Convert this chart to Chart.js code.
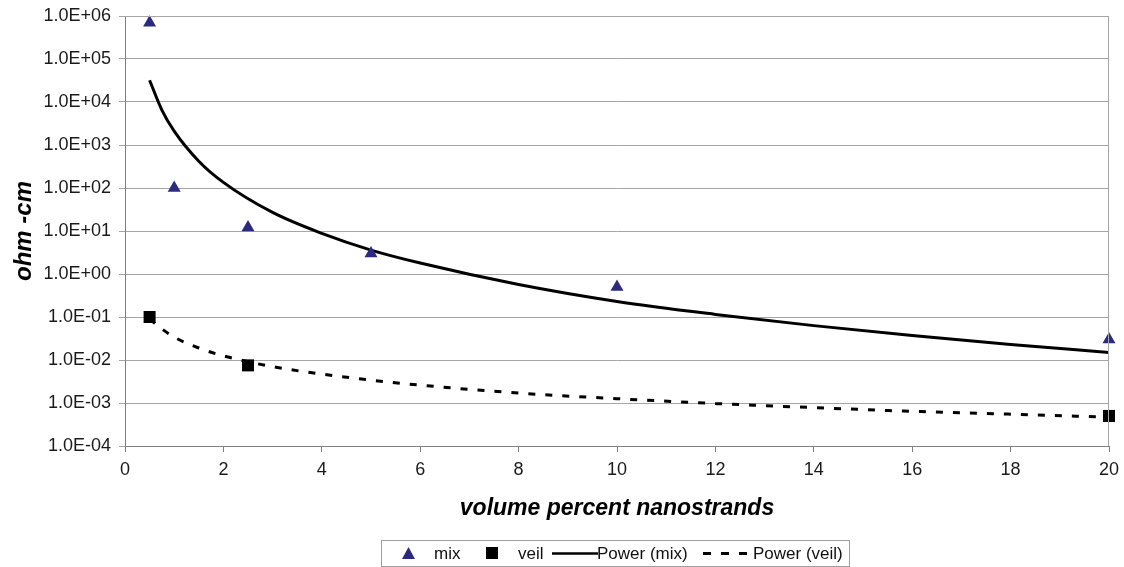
<!DOCTYPE html>
<html>
<head>
<meta charset="utf-8">
<script src="https://cdn.jsdelivr.net/npm/chart.js@4.4.1/dist/chart.umd.min.js"></script>
<style>
  body { margin: 0; background: #fff; font-family: "Liberation Sans", Arial, sans-serif; }
  #wrap { position: relative; width: 1124px; height: 567px; }
  #legend {
    position: absolute; left: 381px; top: 540px; height: 27px; width: 469px;
    border: 1px solid #a0a0a0; box-sizing: border-box;
    font-size: 17px; color: #111; white-space: nowrap;
  }
  #legend span { position: absolute; top: 0; height: 25px; line-height: 25px; }
  #legend svg { position: absolute; }
</style>
</head>
<body>
<div id="wrap">
  <canvas id="c"></canvas>
  <div id="legend">
    <svg style="left:20px;top:6px" width="13" height="12"><polygon points="6.5,0 13,12 0,12" fill="#2b2a80"/></svg>
    <span style="left:52px">mix</span>
    <svg style="left:104px;top:6px" width="12" height="12"><rect width="12" height="12" fill="#000"/></svg>
    <span style="left:136px">veil</span>
    <svg style="left:170px;top:10px" width="46" height="5"><line x1="0" y1="2.5" x2="46" y2="2.5" stroke="#000" stroke-width="2.5"/></svg>
    <span style="left:215px">Power (mix)</span>
    <svg style="left:321px;top:10px" width="47" height="5"><line x1="0" y1="2.5" x2="47" y2="2.5" stroke="#000" stroke-width="3" stroke-dasharray="8,10"/></svg>
    <span style="left:371px">Power (veil)</span>
  </div>
</div>
<script>
    // measured points
    var mixX = [0.5, 1, 2.5, 5, 10, 20];
    var mixY = [7e5, 100, 12, 3, 0.5, 0.03];
    var veilX = [0.5, 2.5, 20];
    var veilY = [0.1, 0.0075, 0.0005];

    // trend lines
    var fitX = [0.5, 0.75, 1, 1.5, 2, 3, 4, 5, 6, 8, 10, 12, 14, 16, 18, 20];
    var fitMixY = [3.2e4, 6.5e3, 2.1e3, 420, 135, 27, 8.8, 3.6, 1.8, 0.57, 0.23, 0.115, 0.063, 0.037, 0.023, 0.015];
    var fitVeilY = [0.09, 0.053, 0.034, 0.019, 0.0125, 0.007, 0.0047, 0.0034, 0.0026, 0.0017, 0.00126, 0.00097, 0.00078, 0.00064, 0.00055, 0.00047];

    var yTicks = [1e-4, 1e-3, 1e-2, 1e-1, 1, 1e1, 1e2, 1e3, 1e4, 1e5, 1e6];

    function pts(xs, ys) {
        return xs.map(function (x, i) { return { x: x, y: ys[i] }; });
    }

    function sciLabel(v) {
        var e = Math.round(Math.log10(v));
        return '1.0E' + (e < 0 ? '-' : '+') + String(Math.abs(e)).padStart(2, '0');
    }

    var frame = {
        id: 'frame',
        afterDatasetsDraw: function (chart) {
            var a = chart.chartArea, ctx = chart.ctx;
            ctx.save();
            ctx.strokeStyle = '#a6a6a6';
            ctx.lineWidth = 1;
            ctx.beginPath();
            ctx.moveTo(a.left, a.top + 0.5);
            ctx.lineTo(a.right - 0.5, a.top + 0.5);
            ctx.lineTo(a.right - 0.5, a.bottom);
            ctx.stroke();
            ctx.restore();
        }
    };

    Chart.defaults.font.family = '"Liberation Sans", Arial, sans-serif';
    Chart.defaults.color = '#1a1a1a';

    new Chart(document.getElementById('c'), {
        type: 'scatter',
        data: {
            datasets: [
                { label: 'mix', data: pts(mixX, mixY), pointStyle: 'triangle', pointRadius: 7.5,
                  backgroundColor: '#2b2a80', borderColor: '#2b2a80', borderWidth: 0, order: 0, clip: false },
                { label: 'veil', data: pts(veilX, veilY), pointStyle: 'rect', pointRadius: 8.5,
                  backgroundColor: '#000', borderColor: '#000', borderWidth: 0, order: 0, clip: false },
                { label: 'Power (mix)', data: pts(fitX, fitMixY), showLine: true, pointRadius: 0,
                  borderColor: '#000', borderWidth: 3, cubicInterpolationMode: 'monotone', order: 1 },
                { label: 'Power (veil)', data: pts(fitX, fitVeilY), showLine: true, pointRadius: 0,
                  borderColor: '#000', borderWidth: 3, borderDash: [7, 10], cubicInterpolationMode: 'monotone', order: 1 }
            ]
        },
        options: {
            responsive: true,
            maintainAspectRatio: false,
            animation: false,
            layout: { padding: { top: 16, right: 15, left: 0, bottom: 45 } },
            plugins: { legend: { display: false }, tooltip: { enabled: false } },
            scales: {
                x: {
                    type: 'linear', min: 0, max: 20,
                    ticks: { stepSize: 2, font: { size: 18 }, padding: 7 },
                    grid: { drawOnChartArea: false, color: '#808080', tickLength: 6 },
                    border: { color: '#808080', width: 1 },
                    title: { display: true, text: 'volume percent nanostrands',
                             font: { size: 23, weight: 'bold', style: 'italic' }, color: '#000',
                             padding: { top: 10, bottom: 0 } },
                    afterFit: function (s) { s.height = 76; s.paddingLeft = 0; s.paddingRight = 0; }
                },
                y: {
                    type: 'logarithmic', min: 1e-4, max: 1e6,
                    afterBuildTicks: function (s) { s.ticks = yTicks.map(function (v) { return { value: v }; }); },
                    ticks: { font: { size: 18 }, padding: 8, callback: function (v) { return sciLabel(v); } },
                    grid: { color: '#a6a6a6', tickLength: 6 },
                    border: { color: '#808080', width: 1 },
                    title: { display: true, text: 'ohm -cm',
                             font: { size: 24, weight: 'bold', style: 'italic' }, color: '#000',
                             padding: { top: 10, bottom: 4 } },
                    afterFit: function (s) { s.width = 125; s.paddingTop = 0; s.paddingBottom = 0; }
                }
            }
        },
        plugins: [frame]
    });
</script>
</body>
</html>
